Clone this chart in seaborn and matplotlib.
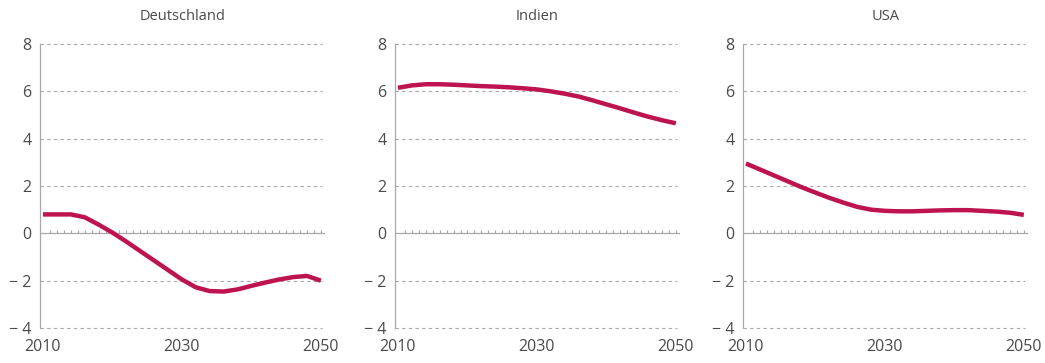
import numpy as np
import pandas as pd
import matplotlib
matplotlib.use("Agg")
import matplotlib.pyplot as plt
import seaborn as sns

# values (every second year)
years = [2010, 2012, 2014, 2016, 2018, 2020, 2022, 2024, 2026, 2028, 2030,
         2032, 2034, 2036, 2038, 2040, 2042, 2044, 2046, 2048, 2050]
deutschland = [0.8, 0.8, 0.8, 0.68, 0.37, 0.03, -0.35, -0.75, -1.15, -1.55, -1.95,
               -2.28, -2.44, -2.46, -2.37, -2.22, -2.08, -1.95, -1.85, -1.8, -2.0]
indien = [6.15, 6.25, 6.3, 6.3, 6.28, 6.25, 6.22, 6.2, 6.17, 6.13, 6.08,
          6.0, 5.9, 5.78, 5.62, 5.45, 5.28, 5.1, 4.93, 4.78, 4.65]
usa = [2.95, 2.7, 2.45, 2.2, 1.95, 1.72, 1.5, 1.3, 1.12, 1.0, 0.95,
       0.93, 0.93, 0.95, 0.97, 0.98, 0.98, 0.95, 0.92, 0.87, 0.78]
countries = ["Deutschland", "Indien", "USA"]
yticks = [-4, -2, 0, 2, 4, 6, 8]
ytick_labels = ["\u2212 4", "\u2212 2", "0", "2", "4", "6", "8"]
xticks = [2010, 2030, 2050]

df = pd.DataFrame({
    "Jahr": years * 3,
    "Wert": deutschland + indien + usa,
    "Land": [c for c in countries for _ in years],
})

sns.set_style("white")
plt.rcParams["font.family"] = ["Open Sans", "DejaVu Sans"]

line_color = "#bd1350"
text_color = "#4a4a4a"
axis_color = "#a8a8a8"

fig = plt.figure(figsize=(10.45, 3.63), dpi=100)
lefts = [40, 395, 743]
for left, land in zip(lefts, countries):
    ax = fig.add_axes([left / 1045, 35 / 363, 285 / 1045, 284 / 363])
    sub = df[df["Land"] == land]
    sns.lineplot(data=sub, x="Jahr", y="Wert", ax=ax, color=line_color,
                 linewidth=3.2, solid_capstyle="butt", solid_joinstyle="round",
                 zorder=5)
    ax.set_xlim(2009.57, 2050.6)
    ax.set_ylim(-4, 8)
    ax.set_yticks(yticks)
    ax.set_yticklabels(ytick_labels)
    ax.set_xticks(xticks)
    ax.tick_params(axis="both", length=0, labelsize=11.5, colors=text_color)
    ax.tick_params(axis="x", pad=8)
    ax.tick_params(axis="y", pad=6)
    for y in yticks:
        if y != 0:
            ax.axhline(y, color=axis_color, linewidth=0.8, linestyle=(0, (3, 3)),
                       xmax=0.99, zorder=1, clip_on=False)
    # zero line with yearly tick marks
    ax.axhline(0, color=axis_color, linewidth=0.9, zorder=2)
    ax.vlines(np.arange(2011, 2051), 0, 0.14, color=axis_color, linewidth=0.8, zorder=2)
    for s in ["top", "right", "bottom"]:
        ax.spines[s].set_visible(False)
    ax.spines["left"].set_color(axis_color)
    ax.spines["left"].set_linewidth(0.9)
    ax.set_xlabel("")
    ax.set_ylabel("")
    ax.set_title(land, fontsize=10.5, color=text_color, pad=17)

fig.savefig("out.png", dpi=100)
